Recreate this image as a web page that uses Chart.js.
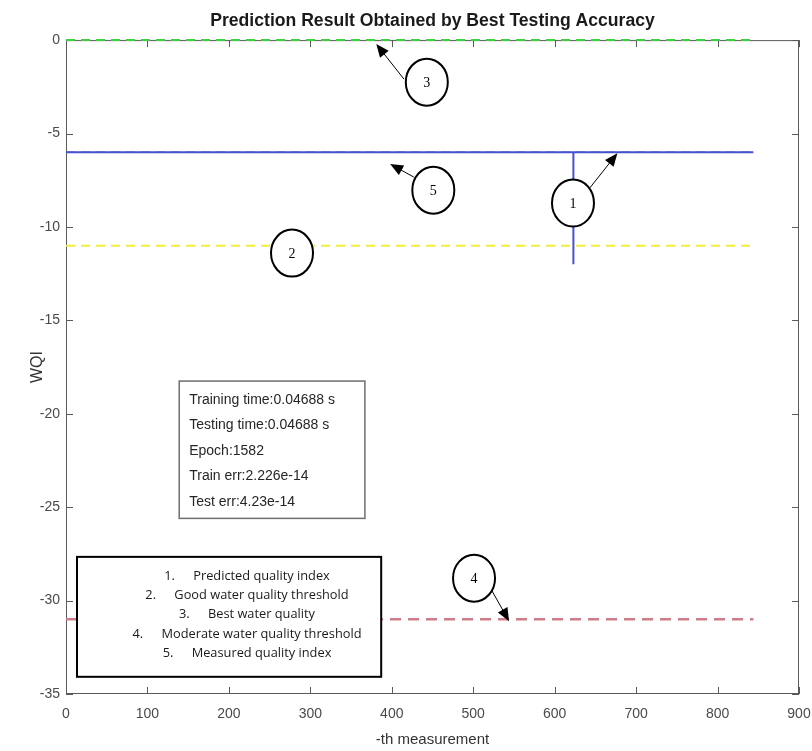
<!DOCTYPE html>
<html>
<head>
<meta charset="utf-8">
<script src="https://cdn.jsdelivr.net/npm/chart.js@4.4.0/dist/chart.umd.min.js"></script>
<style>
    html, body { margin: 0; padding: 0; background: #ffffff; }
    #wrap { width: 812px; height: 751px; }
</style>
</head>
<body>
<div id="wrap"><canvas id="myChart" width="812" height="751"></canvas></div>
<script>
// valores
var predX = [0, 623, 623, 623, 844];
var predY = [-6, -6, -12, -6, -6];
var medX = [0, 844];
var medY = [-6, -6];
var melhorY = 0;       // best water quality
var bomY = -11;        // good water quality threshold
var moderadoY = -31;   // moderate water quality threshold
var xTicks = [0, 100, 200, 300, 400, 500, 600, 700, 800, 900];
var yTicks = [-35, -30, -25, -20, -15, -10, -5, 0];

var infoTextos = [
    'Training time:0.04688 s',
    'Testing time:0.04688 s',
    'Epoch:1582',
    'Train err:2.226e-14',
    'Test err:4.23e-14'
];
var legendaNum = ['1.', '2.', '3.', '4.', '5.'];
var legendaTextos = [
    'Predicted quality index',
    'Good water quality threshold',
    'Best water quality',
    'Moderate water quality threshold',
    'Measured quality index'
];

// circulos numerados (coordenadas em unidades do gráfico)
var marcas = [
    { n: '3', x: 443, y: -2.25, de: [415, -2.09], para: [381, -0.21] },
    { n: '5', x: 451, y: -8.03, de: [427, -7.33], para: [398, -6.63] },
    { n: '1', x: 622.5, y: -8.72, de: [641, -8.03], para: [677, -6.05] },
    { n: '2', x: 277.5, y: -11.4 },
    { n: '4', x: 501, y: -28.8, de: [522, -29.4], para: [544, -31.1] }
];

function pares(xs, ys) {
    var r = [];
    for (var i = 0; i < xs.length; i++) r.push({ x: xs[i], y: ys[i] });
    return r;
}
function horizontal(y) {
    return [{ x: medX[0], y: y }, { x: medX[medX.length - 1], y: y }];
}

// caixa e ticks para dentro (estilo matlab), por baixo das linhas
var moldura = {
    id: 'moldura',
    beforeDatasetsDraw: function (chart) {
        var ctx = chart.ctx;
        var a = chart.chartArea;
        var sx = chart.scales.x, sy = chart.scales.y;
        ctx.save();
        ctx.strokeStyle = '#5a5a5a';
        ctx.lineWidth = 1;
        ctx.strokeRect(a.left + 0.5, a.top + 0.5, a.right - a.left - 1, a.bottom - a.top - 1);
        ctx.beginPath();
        xTicks.forEach(function (v) {
            var px = Math.round(sx.getPixelForValue(v)) + 0.5;
            ctx.moveTo(px, a.bottom); ctx.lineTo(px, a.bottom - 7);
            ctx.moveTo(px, a.top); ctx.lineTo(px, a.top + 7);
        });
        yTicks.forEach(function (v) {
            var py = Math.round(sy.getPixelForValue(v)) + 0.5;
            ctx.moveTo(a.left, py); ctx.lineTo(a.left + 7, py);
            ctx.moveTo(a.right, py); ctx.lineTo(a.right - 7, py);
        });
        ctx.stroke();
        ctx.restore();
    }
};

var extras = {
    id: 'extras',
    afterDatasetsDraw: function (chart) {
        var ctx = chart.ctx;
        var sx = chart.scales.x, sy = chart.scales.y;
        ctx.save();

        // caixa de informações
        var bx1 = sx.getPixelForValue(139), bx2 = sx.getPixelForValue(367);
        var by1 = sy.getPixelForValue(-18.25), by2 = sy.getPixelForValue(-25.6);
        ctx.fillStyle = '#ffffff';
        ctx.fillRect(bx1, by1, bx2 - bx1, by2 - by1);
        ctx.strokeStyle = '#6e6e6e';
        ctx.lineWidth = 1.5;
        ctx.strokeRect(bx1, by1, bx2 - bx1, by2 - by1);
        ctx.fillStyle = '#262626';
        ctx.font = '14px "Liberation Sans", Arial, sans-serif';
        ctx.textAlign = 'left';
        ctx.textBaseline = 'middle';
        for (var i = 0; i < infoTextos.length; i++) {
            ctx.fillText(infoTextos[i], bx1 + 10, by1 + 19 + i * 25.5);
        }

        // legenda numerada
        var lx1 = sx.getPixelForValue(13.5), lx2 = sx.getPixelForValue(387);
        var ly1 = sy.getPixelForValue(-27.66), ly2 = sy.getPixelForValue(-34.08);
        ctx.fillStyle = '#ffffff';
        ctx.fillRect(lx1, ly1, lx2 - lx1, ly2 - ly1);
        ctx.strokeStyle = '#000000';
        ctx.lineWidth = 2;
        ctx.strokeRect(lx1, ly1, lx2 - lx1, ly2 - ly1);
        ctx.font = '12.8px "Open Sans", sans-serif';
        ctx.fillStyle = '#1a1a1a';
        var centro = lx1 + 170;
        for (var j = 0; j < legendaTextos.length; j++) {
            var w = ctx.measureText(legendaTextos[j]).width;
            var inicio = centro - (w + 29) / 2;
            var yy = ly1 + 19.5 + j * 19.2;
            ctx.textAlign = 'left';
            ctx.fillText(legendaNum[j], inicio, yy);
            ctx.fillText(legendaTextos[j], inicio + 29, yy);
        }

        // circulos com setas
        marcas.forEach(function (m) {
            var cx = sx.getPixelForValue(m.x), cy = sy.getPixelForValue(m.y);
            if (m.de) {
                var x0 = sx.getPixelForValue(m.de[0]), y0 = sy.getPixelForValue(m.de[1]);
                var x1 = sx.getPixelForValue(m.para[0]), y1 = sy.getPixelForValue(m.para[1]);
                var ang = Math.atan2(y1 - y0, x1 - x0);
                ctx.strokeStyle = '#000000';
                ctx.lineWidth = 1;
                ctx.beginPath();
                ctx.moveTo(x0, y0);
                ctx.lineTo(x1 - 10 * Math.cos(ang), y1 - 10 * Math.sin(ang));
                ctx.stroke();
                ctx.fillStyle = '#000000';
                ctx.beginPath();
                ctx.moveTo(x1, y1);
                ctx.lineTo(x1 - 13 * Math.cos(ang) + 5.5 * Math.sin(ang), y1 - 13 * Math.sin(ang) - 5.5 * Math.cos(ang));
                ctx.lineTo(x1 - 13 * Math.cos(ang) - 5.5 * Math.sin(ang), y1 - 13 * Math.sin(ang) + 5.5 * Math.cos(ang));
                ctx.closePath();
                ctx.fill();
            }
            ctx.fillStyle = '#ffffff';
            ctx.strokeStyle = '#000000';
            ctx.lineWidth = 2;
            ctx.beginPath();
            ctx.ellipse(cx, cy, 21, 23.5, 0, 0, Math.PI * 2);
            ctx.fill();
            ctx.stroke();
            ctx.fillStyle = '#000000';
            ctx.font = '14px "Liberation Serif", "Times New Roman", serif';
            ctx.textAlign = 'center';
            ctx.textBaseline = 'middle';
            ctx.fillText(m.n, cx, cy + 1);
        });

        ctx.restore();
    }
};

var fonteEixo = { family: '"Liberation Sans", Arial, sans-serif', size: 14 };

const config = {
    type: 'scatter',
    data: {
        datasets: [
            {
                label: 'Best water quality',
                data: horizontal(melhorY),
                showLine: true,
                borderColor: 'rgb(60, 210, 60)',
                borderWidth: 2,
                borderDash: [9, 6],
                pointRadius: 0,
                clip: false
            },
            {
                label: 'Good water quality threshold',
                data: horizontal(bomY),
                showLine: true,
                borderColor: 'rgb(240, 238, 60)',
                borderWidth: 2,
                borderDash: [9, 6],
                pointRadius: 0
            },
            {
                label: 'Moderate water quality threshold',
                data: horizontal(moderadoY),
                showLine: true,
                borderColor: 'rgb(205, 125, 135)',
                borderWidth: 2.5,
                borderDash: [11, 7],
                pointRadius: 0
            },
            {
                label: 'Predicted quality index',
                data: pares(predX, predY),
                showLine: true,
                borderColor: 'rgb(70, 80, 210)',
                borderWidth: 2,
                pointRadius: 0,
                tension: 0
            },
            {
                label: 'Measured quality index',
                data: pares(medX, medY),
                showLine: true,
                borderColor: 'rgba(80, 80, 90, 0.8)',
                borderWidth: 1.5,
                borderDash: [9, 6],
                pointRadius: 0
            }
        ]
    },
    options: {
        responsive: false,
        animation: false,
        layout: { padding: { left: 0, right: 13, top: 0, bottom: 0 } },
        plugins: {
            legend: { display: false },
            tooltip: { enabled: false },
            title: {
                display: true,
                fullSize: false,
                text: 'Prediction Result Obtained by Best Testing Accuracy',
                color: '#1a1a1a',
                font: { family: '"Liberation Sans", Arial, sans-serif', size: 17.6, weight: 'bold' },
                padding: { top: 11, bottom: 8 }
            }
        },
        scales: {
            x: {
                type: 'linear',
                min: 0,
                max: 900,
                afterBuildTicks: function (s) { s.ticks = xTicks.map(function (v) { return { value: v }; }); },
                afterFit: function (s) { s.height = 57; s.paddingLeft = 0; s.paddingRight = 0; },
                grid: { display: false, drawTicks: false },
                border: { display: false },
                ticks: { color: '#4a4a4a', font: fonteEixo, padding: 12, maxRotation: 0 },
                title: { display: true, text: '-th measurement', color: '#333333', font: { family: fonteEixo.family, size: 15 }, padding: { top: 0, bottom: 2 } }
            },
            y: {
                type: 'linear',
                min: -35,
                max: 0,
                afterBuildTicks: function (s) { s.ticks = yTicks.map(function (v) { return { value: v }; }); },
                afterFit: function (s) { s.width = 66; },
                grid: { display: false, drawTicks: false },
                border: { display: false },
                ticks: { color: '#4a4a4a', font: fonteEixo, padding: 6 },
                title: { display: true, text: 'WQI', color: '#333333', font: { family: fonteEixo.family, size: 16 }, padding: { top: 28, bottom: 0 } }
            }
        }
    },
    plugins: [moldura, extras]
};

const myChart = new Chart(document.getElementById('myChart'), config);
</script>
</body>
</html>
